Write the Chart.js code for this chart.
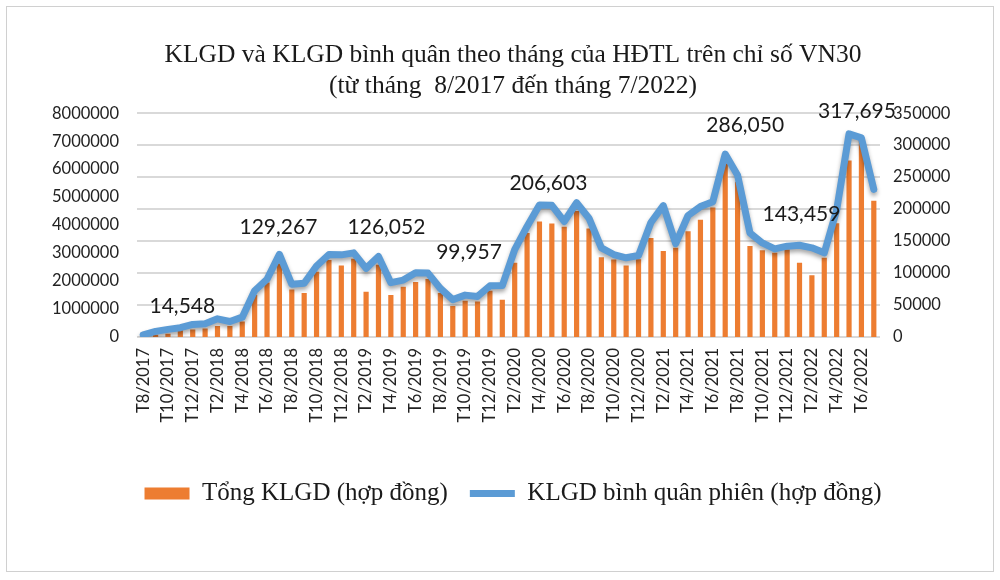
<!DOCTYPE html>
<html>
<head>
<meta charset="utf-8">
<script src="https://cdn.jsdelivr.net/npm/chart.js@4/dist/chart.umd.min.js"></script>
<style>
  html, body { margin: 0; padding: 0; background: #fff; }
  #wrap { position: relative; width: 1000px; height: 580px; }
  #frame { position: absolute; left: 6px; top: 6px; width: 986px; height: 564px; border: 1px solid #d0d0d0; pointer-events: none; }
</style>
</head>
<body>
<div id="wrap">
  <canvas id="chart" width="1000" height="580"></canvas>
  <div id="frame"></div>
</div>
<script>
// months T8/2017 .. T7/2022
const months = [
  "T8/2017","T9/2017","T10/2017","T11/2017","T12/2017",
  "T1/2018","T2/2018","T3/2018","T4/2018","T5/2018","T6/2018","T7/2018","T8/2018","T9/2018","T10/2018","T11/2018","T12/2018",
  "T1/2019","T2/2019","T3/2019","T4/2019","T5/2019","T6/2019","T7/2019","T8/2019","T9/2019","T10/2019","T11/2019","T12/2019",
  "T1/2020","T2/2020","T3/2020","T4/2020","T5/2020","T6/2020","T7/2020","T8/2020","T9/2020","T10/2020","T11/2020","T12/2020",
  "T1/2021","T2/2021","T3/2021","T4/2021","T5/2021","T6/2021","T7/2021","T8/2021","T9/2021","T10/2021","T11/2021","T12/2021",
  "T1/2022","T2/2022","T3/2022","T4/2022","T5/2022","T6/2022","T7/2022"
];

// Tong KLGD (hop dong) - left axis
const totalVolume = [
  30000, 80000, 120000, 240000, 270000,
  300000, 390000, 390000, 550000, 1500000, 1950000, 2620000, 1700000, 1570000, 2330000, 2750000, 2560000,
  2800000, 1620000, 2580000, 1500000, 1800000, 1970000, 2070000, 1570000, 1110000, 1300000, 1270000, 1650000,
  1330000, 2650000, 3720000, 4130000, 4060000, 3940000, 4500000, 3880000, 2850000, 2770000, 2560000, 2780000,
  3540000, 3070000, 3190000, 3780000, 4190000, 4630000, 6190000, 5550000, 3250000, 3100000, 3010000, 3130000,
  2650000, 2210000, 2830000, 4070000, 6310000, 7050000, 4870000
];

// KLGD binh quan phien (hop dong) - right axis
const avgPerSession = [
  3500, 8800, 11900, 14548, 19600,
  20600, 28400, 24300, 31000, 72300, 90300, 129267, 82500, 84000, 111000, 129000, 128500,
  131600, 107300, 126052, 85000, 89000, 100600, 99957, 75900, 58400, 65500, 63500, 80000,
  80500, 136700, 173000, 206603, 206000, 180700, 210000, 185800, 139400, 129000, 123900, 127500,
  179000, 205500, 146000, 190000, 204000, 211700, 286050, 252900, 162600, 147100, 137800, 142000,
  143459, 139400, 131600, 198700, 317695, 311300, 230800
];

// points of the line that carry a value label
const labelledMonths = [3, 11, 19, 23, 32, 47, 53, 57];

const leftMax = 8000000, leftStep = 1000000;
const rightMax = 350000, rightStep = 50000;

// nudges for the value labels (pixels, relative to the point)
const labelNudge = {
  3: [2, 21], 11: [-1, 27], 19: [8, 29], 23: [41, 21],
  32: [9, 22], 47: [20, 29], 53: [2, 31], 57: [8, 23]
};

const valueLabels = {
  id: "valueLabels",
  afterDatasetsDraw(chart) {
    const ctx = chart.ctx;
    const x = chart.scales.x, y1 = chart.scales.y1;
    ctx.save();
    ctx.font = "21px Lato, 'Noto Sans', sans-serif";
    ctx.fillStyle = "#1a1a1a";
    ctx.textAlign = "center";
    ctx.textBaseline = "middle";
    labelledMonths.forEach(i => {
      const n = labelNudge[i] || [0, 24];
      const v = avgPerSession[i];
      ctx.fillText(v.toLocaleString("en-US"), x.getPixelForValue(i) + n[0], y1.getPixelForValue(v) - n[1]);
    });
    ctx.restore();
  }
};

const lineShadow = {
  id: "lineShadow",
  beforeDatasetDraw(chart, args) {
    if (args.meta.type !== "line") return;
    const ctx = chart.ctx;
    ctx.save();
    ctx.shadowColor = "rgba(0,0,0,0.35)";
    ctx.shadowBlur = 4;
    ctx.shadowOffsetY = 3;
  },
  afterDatasetDraw(chart, args) {
    if (args.meta.type !== "line") return;
    chart.ctx.restore();
  }
};

new Chart(document.getElementById("chart"), {
  data: {
    labels: months,
    datasets: [
      {
        type: "bar",
        label: "Tổng KLGD (hợp đồng)",
        data: totalVolume,
        yAxisID: "y",
        backgroundColor: "#ED7D31",
        barPercentage: 0.42,
        categoryPercentage: 1,
        pointStyle: "rect",
        order: 1
      },
      {
        type: "line",
        label: "KLGD bình quân phiên (hợp đồng)",
        data: avgPerSession,
        yAxisID: "y1",
        borderColor: "#5B9BD5",
        backgroundColor: "#5B9BD5",
        borderWidth: 7,
        tension: 0,
        pointRadius: 0,
        borderJoinStyle: "round",
        borderCapStyle: "round",
        pointStyle: "line",
        order: 0
      }
    ]
  },
  options: {
    responsive: false,
    animation: false,
    layout: { padding: { top: 10, left: 36, right: 10, bottom: 64 } },
    plugins: {
      tooltip: { enabled: false },
      title: {
        display: true,
        text: ["KLGD và KLGD bình quân theo tháng của HĐTL trên chỉ số VN30", "(từ tháng  8/2017 đến tháng 7/2022)"],
        color: "#1a1a1a",
        font: { family: "'Liberation Serif', 'Times New Roman', serif", size: 25.5, weight: "normal", lineHeight: 1.2 },
        padding: { top: 30, bottom: 12 }
      },
      legend: {
        position: "bottom",
        labels: {
          usePointStyle: true,
          pointStyleWidth: 45,
          boxHeight: 12,
          padding: 22,
          color: "#1a1a1a",
          font: { family: "'Liberation Serif', 'Times New Roman', serif", size: 25 },
          sort: (a, b) => a.datasetIndex - b.datasetIndex
        }
      }
    },
    scales: {
      x: {
        grid: { display: false },
        border: { display: false },
        afterFit: s => { s.height = 122; },
        ticks: {
          autoSkip: false,
          minRotation: 90,
          maxRotation: 90,
          color: "#222",
          font: { family: "Lato, 'Noto Sans', sans-serif", size: 16.5 },
          callback: function (v, i) { return i % 2 === 0 ? this.getLabelForValue(v) : ""; }
        }
      },
      y: {
        position: "left",
        min: 0, max: leftMax,
        grid: { display: false, drawTicks: false },
        border: { display: false },
        afterFit: s => { s.width = 101; },
        ticks: {
          stepSize: leftStep,
          padding: 18,
          color: "#222",
          font: { family: "Lato, 'Noto Sans', sans-serif", size: 16.5 },
          callback: v => String(v)
        }
      },
      y1: {
        position: "right",
        min: 0, max: rightMax,
        grid: { color: "#d9d9d9", lineWidth: 2, drawTicks: false },
        border: { display: false },
        afterFit: s => { s.width = 110; },
        ticks: {
          stepSize: rightStep,
          padding: 13,
          color: "#222",
          font: { family: "Lato, 'Noto Sans', sans-serif", size: 16.5 },
          callback: v => String(v)
        }
      }
    }
  },
  plugins: [lineShadow, valueLabels]
});
</script>
</body>
</html>
